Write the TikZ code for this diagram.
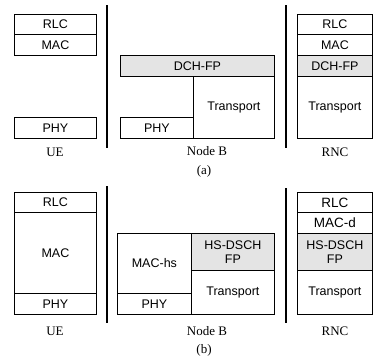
\documentclass[tikz,border=0pt]{standalone}
\usepackage{fontspec}
\setmainfont{Liberation Serif}
\setsansfont{Liberation Sans}
\definecolor{fpgrey}{HTML}{E4E4E4}
\begin{document}
\begin{tikzpicture}[x=1pt,y=-1pt,
  layer/.style={draw, line width=0.8pt, inner sep=0pt, anchor=north west, align=center,
    font=\sffamily\fontsize{12.5}{13.5}\selectfont},
  fp/.style={layer, fill=fpgrey},
  lbl/.style={inner sep=0pt, font=\fontsize{13}{14}\selectfont},
  divider/.style={line width=1.3pt}]
\useasboundingbox (0,0) rectangle (374,356);
% ---------- (a) ----------
\node[layer, minimum width=82, minimum height=20] (ueRLCa) at (14,14) {RLC};
\node[layer, minimum width=82, minimum height=21] (ueMACa) at (14,34) {MAC};
\node[layer, minimum width=82, minimum height=21] (uePHYa) at (14,117) {PHY};
\node[fp, minimum width=154, minimum height=21] (nbFPa) at (120,55) {DCH-FP};
\node[layer, minimum width=73, minimum height=21] (nbPHYa) at (120,117) {PHY};
\node[layer, minimum width=81, minimum height=62] (nbTra) at (193,76) {Transport};
\node[layer, minimum width=75, minimum height=20] (rncRLCa) at (297,14) {RLC};
\node[layer, minimum width=75, minimum height=21] (rncMACa) at (297,34) {MAC};
\node[fp, minimum width=75, minimum height=21] (rncFPa) at (297,55) {DCH-FP};
\node[layer, minimum width=75, minimum height=62] (rncTra) at (297,76) {Transport};
\coordinate (d1at) at (107,5); \coordinate (d1ab) at (107,148);
\coordinate (d2at) at (286,5); \coordinate (d2ab) at (286,148);
\draw[divider] (d1at) -- (d1ab);
\draw[divider] (d2at) -- (d2ab);
\node[lbl] (ueLa) at (55,152) {UE};
\node[lbl] (nbLa) at (207,151) {Node B};
\node[lbl] (rncLa) at (335,152) {RNC};
\node[lbl] (capa) at (204,171) {(a)};
% ---------- (b) ----------
\node[layer, minimum width=82, minimum height=20] (ueRLCb) at (14,192) {RLC};
\node[layer, minimum width=82, minimum height=81] (ueMACb) at (14,212) {MAC};
\node[layer, minimum width=82, minimum height=21] (uePHYb) at (14,293) {PHY};
\node[layer, minimum width=74, minimum height=60] (nbMACb) at (117,233) {MAC-hs};
\node[layer, minimum width=74, minimum height=21] (nbPHYb) at (117,293) {PHY};
\node[fp, minimum width=83, minimum height=37] (nbFPb) at (191,233) {HS-DSCH\\FP};
\node[layer, minimum width=83, minimum height=44] (nbTrb) at (191,270) {Transport};
\node[layer, minimum width=75, minimum height=20, font=\sffamily\fontsize{13.5}{14.5}\selectfont] (rncRLCb) at (297,192) {RLC};
\node[layer, minimum width=75, minimum height=21, font=\sffamily\fontsize{13.5}{14.5}\selectfont] (rncMACb) at (297,212) {MAC-d};
\node[fp, minimum width=75, minimum height=37] (rncFPb) at (297,233) {HS-DSCH\\FP};
\node[layer, minimum width=75, minimum height=44] (rncTrb) at (297,270) {Transport};
\coordinate (d1bt) at (107,186); \coordinate (d1bb) at (107,323);
\coordinate (d2bt) at (286,188); \coordinate (d2bb) at (286,323);
\draw[divider] (d1bt) -- (d1bb);
\draw[divider] (d2bt) -- (d2bb);
\node[lbl] (ueLb) at (55,331) {UE};
\node[lbl] (nbLb) at (207,331) {Node B};
\node[lbl] (rncLb) at (335,331) {RNC};
\node[lbl] (capb) at (204,350) {(b)};
\end{tikzpicture}
\end{document}
